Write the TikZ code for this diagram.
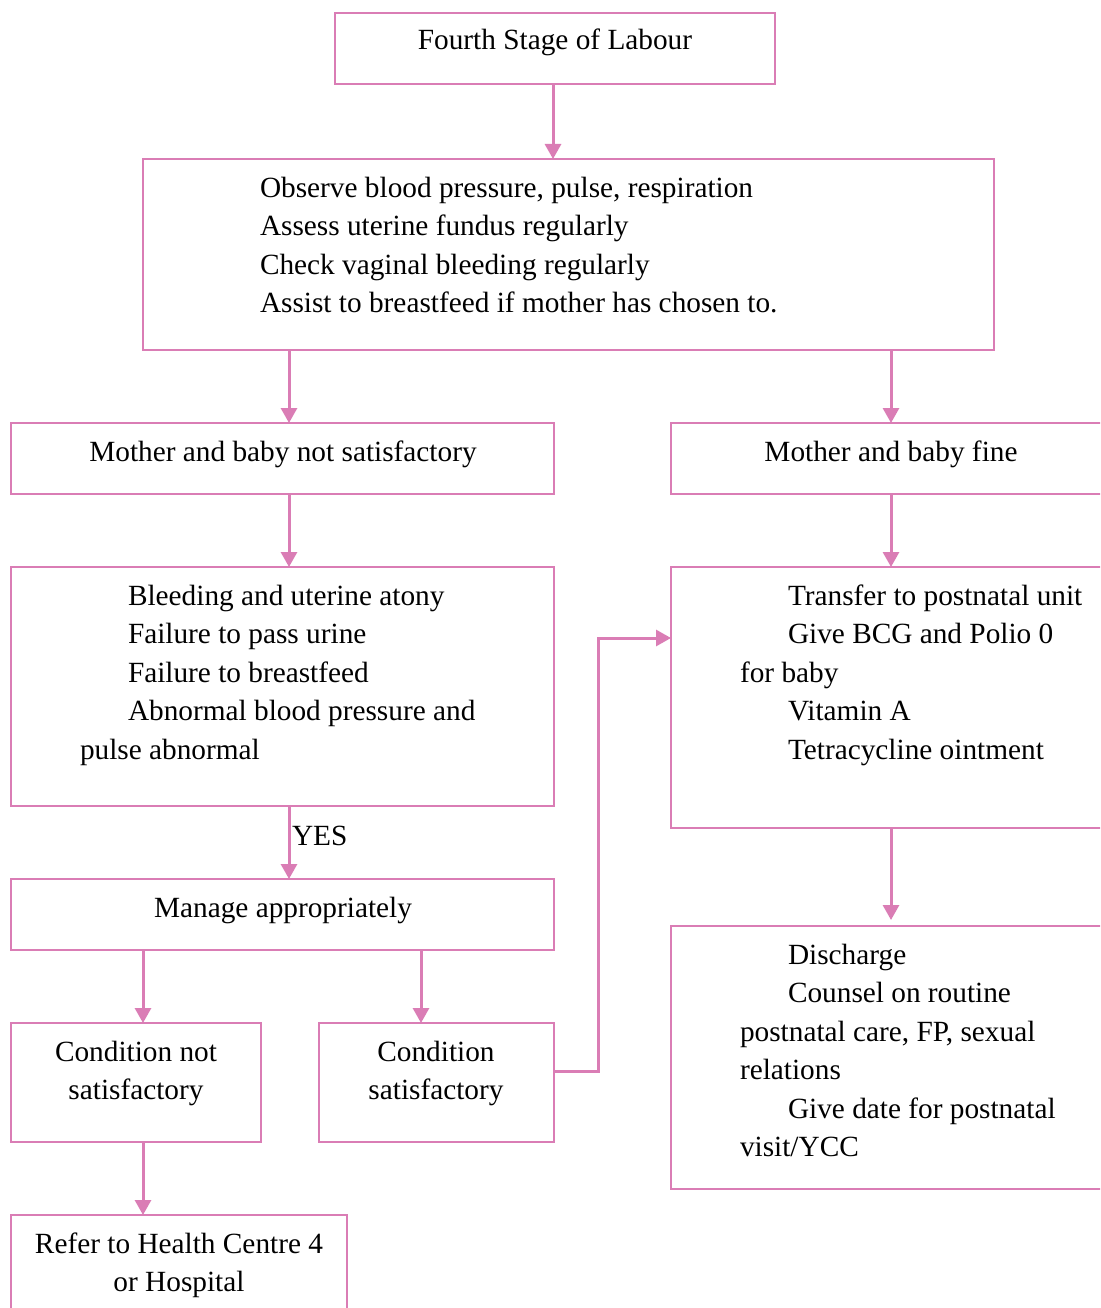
\documentclass[tikz,border=0pt]{standalone}
\usepackage{fontspec}
\setmainfont{Liberation Serif}
\usetikzlibrary{arrows.meta}
\definecolor{flow}{RGB}{218,125,181}
\begin{document}
\begin{tikzpicture}[x=1pt,y=-1pt,
  box/.style={draw=flow, line width=2pt, rectangle, inner sep=0pt, outer sep=0pt, anchor=north west},
  arr/.style={draw=flow, line width=3pt, -{Triangle[length=15pt,width=16pt]}},
  txt/.style={inner sep=0pt, outer sep=0pt, text=black, font=\fontsize{29.3}{38.5}\selectfont},
  lefttxt/.style={txt, align=left, anchor=north west},
  midtxt/.style={txt, align=center, anchor=north},
]
\useasboundingbox (0,0) rectangle (1100,1308);
\clip (0,0) rectangle (1100,1308);

% boxes
\node[box, minimum width=440pt, minimum height=71pt]  (A) at (335,13)   {};
\node[box, minimum width=851pt, minimum height=191pt] (B) at (143,159)  {};
\node[box, minimum width=543pt, minimum height=71pt]  (C) at (11,423)   {};
\node[box, minimum width=440pt, minimum height=71pt]  (D) at (671,423)  {};
\node[box, minimum width=543pt, minimum height=239pt] (E) at (11,567)   {};
\node[box, minimum width=543pt, minimum height=71pt]  (F) at (11,879)   {};
\node[box, minimum width=250pt, minimum height=119pt] (G) at (11,1023)  {};
\node[box, minimum width=235pt, minimum height=119pt] (H) at (319,1023) {};
\node[box, minimum width=336pt, minimum height=130pt] (I) at (11,1215)  {};
\node[box, minimum width=440pt, minimum height=261pt] (J) at (671,567)  {};
\node[box, minimum width=440pt, minimum height=263pt] (K) at (671,926)  {};

% texts
\node[txt, anchor=base] (tA) at (555,50) {Fourth Stage of Labour};
\node[lefttxt] (tB) at (260,170.05) {\strut Observe blood pressure, pulse, respiration\\
  Assess uterine fundus regularly\\
  Check vaginal bleeding regularly\\
  Assist to breastfeed if mother has chosen to.};
\node[txt, anchor=base] (tC) at (283,461) {Mother and baby not satisfactory};
\node[txt, anchor=base] (tD) at (891,461) {Mother and baby fine};
\node[lefttxt] (tE) at (80,578.05) {\strut\hspace*{48pt}Bleeding and uterine atony\\
  \hspace*{48pt}Failure to pass urine\\
  \hspace*{48pt}Failure to breastfeed\\
  \hspace*{48pt}Abnormal blood pressure and\\
  pulse abnormal};
\node[txt, anchor=base] (tF) at (283,917) {Manage appropriately};
\node[midtxt] (tG) at (136,1034.05) {\strut Condition not\\ satisfactory};
\node[midtxt] (tH) at (436,1034.05) {\strut Condition\\ satisfactory};
\node[midtxt] (tI) at (179,1226.05) {\strut Refer to Health Centre 4\\ or Hospital};
\node[lefttxt] (tJ) at (740,578.05) {\strut\hspace*{48pt}Transfer to postnatal unit\\
  \hspace*{48pt}Give BCG and Polio 0\\
  for baby\\
  \hspace*{48pt}Vitamin A\\
  \hspace*{48pt}Tetracycline ointment};
\node[lefttxt] (tK) at (740,937.05) {\strut\hspace*{48pt}Discharge\\
  \hspace*{48pt}Counsel on routine\\
  postnatal care, FP, sexual\\
  relations\\
  \hspace*{48pt}Give date for postnatal\\
  visit/YCC};
\node[txt, anchor=base west] (yes) at (292,845) {YES};

% connectors
\draw[arr] ([xshift=-2pt]A.south) -- ([xshift=-2pt]A.south |- B.north);
\draw[arr] ([xshift=6.5pt]C.north |- B.south) -- ([xshift=6.5pt]C.north);
\draw[arr] (D.north |- B.south) -- (D.north);
\draw[arr] ([xshift=6.5pt]C.south) -- ([xshift=6.5pt]E.north);
\draw[arr] ([xshift=6.5pt]E.south) -- ([xshift=6.5pt]F.north);
\draw[arr] ([xshift=7pt]G.north |- F.south) -- ([xshift=7pt]G.north);
\draw[arr] ([xshift=-15.5pt]H.north |- F.south) -- ([xshift=-15.5pt]H.north);
\draw[arr] ([xshift=7pt]G.south) -- ([xshift=7pt]G.south |- I.north);
\draw[arr] (D.south) -- (J.north);
\draw[arr] (J.south) -- ([yshift=6pt]K.north);
\draw[arr] ([yshift=11.5pt]H.east) -- ++(44,0) |- ([yshift=59.5pt]J.west);
\end{tikzpicture}
\end{document}
